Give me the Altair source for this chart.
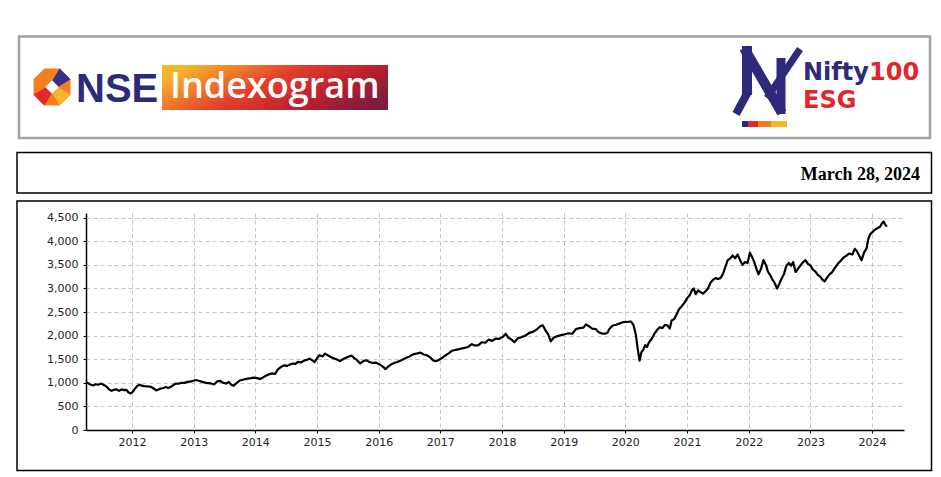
import altair as alt
import pandas as pd

# ---------------- data ----------------
years = [
    2011.25, 2011.28, 2011.33, 2011.37, 2011.41, 2011.45, 2011.50, 2011.55, 2011.59, 2011.63,
    2011.67, 2011.71, 2011.75, 2011.79, 2011.83, 2011.87, 2011.91, 2011.94, 2011.97, 2012.00,
    2012.04, 2012.08, 2012.12, 2012.16, 2012.20, 2012.25, 2012.31, 2012.35, 2012.39, 2012.43,
    2012.47, 2012.51, 2012.55, 2012.59, 2012.63, 2012.67, 2012.71, 2012.75, 2012.80, 2012.85,
    2012.90, 2012.96, 2013.04, 2013.09, 2013.14, 2013.20, 2013.27, 2013.33, 2013.38, 2013.43,
    2013.48, 2013.53, 2013.57, 2013.61, 2013.65, 2013.69, 2013.75, 2013.81, 2013.87, 2013.93,
    2013.97, 2014.03, 2014.07, 2014.12, 2014.17, 2014.22, 2014.27, 2014.32, 2014.37, 2014.42,
    2014.47, 2014.52, 2014.56, 2014.61, 2014.65, 2014.69, 2014.74, 2014.79, 2014.84, 2014.88,
    2014.93, 2014.96, 2015.00, 2015.04, 2015.09, 2015.13, 2015.18, 2015.22, 2015.28, 2015.33,
    2015.37, 2015.42, 2015.47, 2015.52, 2015.56, 2015.61, 2015.65, 2015.70, 2015.75, 2015.80,
    2015.85, 2015.90, 2015.95, 2016.00, 2016.04, 2016.08, 2016.11, 2016.15, 2016.20, 2016.25,
    2016.30, 2016.35, 2016.40, 2016.45, 2016.50, 2016.57, 2016.63, 2016.68, 2016.73, 2016.78,
    2016.84, 2016.88, 2016.92, 2016.97, 2017.02, 2017.08, 2017.14, 2017.19, 2017.25, 2017.32,
    2017.39, 2017.45, 2017.51, 2017.56, 2017.62, 2017.67, 2017.73, 2017.78, 2017.84, 2017.90,
    2017.95, 2018.02, 2018.06, 2018.10, 2018.15, 2018.20, 2018.26, 2018.31, 2018.38, 2018.44,
    2018.50, 2018.57, 2018.62, 2018.66, 2018.71, 2018.75, 2018.79, 2018.84, 2018.90, 2018.96,
    2019.02, 2019.08, 2019.14, 2019.20, 2019.26, 2019.32, 2019.36, 2019.41, 2019.46, 2019.52,
    2019.56, 2019.61, 2019.67, 2019.71, 2019.74, 2019.79, 2019.85, 2019.91, 2019.96, 2020.02,
    2020.09, 2020.13, 2020.17, 2020.20, 2020.23, 2020.26, 2020.29, 2020.32, 2020.35, 2020.38,
    2020.43, 2020.48, 2020.52, 2020.56, 2020.60, 2020.64, 2020.68, 2020.72, 2020.75, 2020.79,
    2020.83, 2020.87, 2020.91, 2020.96, 2021.00, 2021.04, 2021.08, 2021.11, 2021.14, 2021.18,
    2021.22, 2021.26, 2021.30, 2021.34, 2021.38, 2021.42, 2021.46, 2021.50, 2021.54, 2021.58,
    2021.62, 2021.66, 2021.70, 2021.74, 2021.78, 2021.82, 2021.86, 2021.90, 2021.94, 2021.98,
    2022.02, 2022.05, 2022.09, 2022.13, 2022.16, 2022.20, 2022.24, 2022.28, 2022.31, 2022.35,
    2022.38, 2022.42, 2022.46, 2022.49, 2022.53, 2022.57, 2022.61, 2022.65, 2022.69, 2022.72,
    2022.76, 2022.80, 2022.84, 2022.88, 2022.92, 2022.96, 2023.00, 2023.04, 2023.08, 2023.12,
    2023.16, 2023.20, 2023.23, 2023.27, 2023.31, 2023.35, 2023.40, 2023.45, 2023.50, 2023.55,
    2023.59, 2023.63, 2023.68, 2023.72, 2023.75, 2023.79, 2023.83, 2023.87, 2023.91, 2023.94,
    2023.97, 2024.01, 2024.05, 2024.09, 2024.13, 2024.16, 2024.19, 2024.21, 2024.24,
]
values = [
    1010, 1000, 960, 945, 970, 960, 985, 950, 915, 860,
    830, 855, 860, 830, 860, 845, 850, 800, 775, 790,
    860, 930, 960, 940, 930, 925, 915, 880, 840, 860,
    880, 890, 910, 890, 915, 950, 985, 980, 1000, 1000,
    1020, 1030, 1060, 1040, 1020, 1000, 990, 965, 1030, 1040,
    1000, 985, 1020, 960, 940, 990, 1050, 1070, 1090, 1100,
    1110, 1100, 1080, 1110, 1150, 1180, 1200, 1190, 1290, 1340,
    1370, 1360, 1390, 1410, 1400, 1445, 1430, 1470, 1490, 1515,
    1470, 1440, 1520, 1585, 1560, 1620, 1580, 1550, 1515, 1490,
    1460, 1500, 1530, 1560, 1575, 1520, 1480, 1410, 1460, 1480,
    1440, 1420, 1430, 1400, 1370, 1330, 1290, 1340, 1390, 1420,
    1440, 1470, 1500, 1530, 1560, 1610, 1625, 1640, 1600, 1585,
    1535, 1480, 1460, 1480, 1520, 1580, 1630, 1680, 1700, 1720,
    1740, 1760, 1820, 1790, 1800, 1860, 1850, 1915, 1890, 1940,
    1930, 1980, 2040, 1960, 1920, 1860, 1950, 1965, 2000, 2060,
    2080, 2140, 2200, 2220, 2100, 2020, 1880, 1960, 1990, 2010,
    2030, 2050, 2040, 2140, 2160, 2170, 2240, 2200, 2150, 2140,
    2080, 2050, 2040, 2060, 2140, 2210, 2230, 2260, 2285, 2290,
    2300, 2230, 2020, 1720, 1470, 1650, 1700, 1800, 1760, 1850,
    1940, 2060, 2130, 2180, 2160, 2230, 2220, 2150, 2320, 2350,
    2450, 2560, 2620, 2700, 2790, 2850, 2960, 3000, 2880, 2960,
    2920, 2890, 2940, 3000, 3120, 3180, 3220, 3200, 3220, 3300,
    3450, 3600, 3640, 3700, 3640, 3720, 3600, 3500, 3560, 3540,
    3760, 3680, 3560, 3400, 3300, 3420, 3600, 3500, 3360, 3280,
    3200, 3120, 3000, 3080, 3200, 3300, 3480, 3540, 3480, 3560,
    3350, 3420, 3490, 3560, 3600, 3520, 3490, 3400, 3360, 3290,
    3250, 3180, 3150, 3230, 3300, 3340, 3440, 3530, 3600, 3670,
    3700, 3740, 3720, 3840, 3800, 3700, 3600, 3760, 3850, 4050,
    4150, 4200, 4250, 4280, 4310, 4380, 4420, 4360, 4310,
]
x_ticks = list(range(2012, 2025))
y_ticks = list(range(0, 5000, 500))
date_label = "March 28, 2024"
logo_left = ["NSE", "Indexogram"]
logo_right = ["Nifty", "100", "ESG"]

df = pd.DataFrame({"year": years, "value": values})
one = pd.DataFrame({"k": [0]})

# plot origin in page pixels
OX, OY = 86, 213


def px(x):
    return x - OX


def py(y):
    return y - OY


def box(x1, y1, x2, y2, stroke, sw, fill="transparent"):
    return alt.Chart(one).mark_rect(fill=fill, stroke=stroke, strokeWidth=sw).encode(
        x=alt.value(px(x1)), x2=alt.value(px(x2)),
        y=alt.value(py(y1)), y2=alt.value(py(y2)))


def label(text, x, y, size, color, font, weight="normal", align="left"):
    return alt.Chart(one).mark_text(
        text=text, font=font, fontSize=size, fontWeight=weight, color=color,
        align=align, baseline="alphabetic").encode(x=alt.value(px(x)), y=alt.value(py(y)))


def seg(x1, y1, x2, y2, color, w):
    return alt.Chart(one).mark_rule(color=color, strokeWidth=w, strokeCap="butt").encode(
        x=alt.value(px(x1)), y=alt.value(py(y1)), x2=alt.value(px(x2)), y2=alt.value(py(y2)))


def shape(path, cx, cy, size, color):
    return alt.Chart(one).mark_point(shape=path, filled=True, fill=color, opacity=1,
                                     strokeWidth=0, size=size).encode(
        x=alt.value(px(cx)), y=alt.value(py(cy)))


INDIGO = "#2d2a7c"
RED = "#e1262d"

layers = [
    box(19, 36.5, 930, 138, "#a3a3a3", 2.5, fill="white"),
    box(17, 152.5, 931.5, 193, "black", 1.5),
    box(17, 201, 931.5, 470.5, "black", 1.5),
    label(date_label, 920, 180, 18, "black", "Liberation Serif", "bold", "right"),
    # NSE octagon logo
    shape("M0.383,-0.924L0.924,-0.383L0.924,0.383L0.383,0.924L-0.383,0.924L-0.924,0.383L-0.924,-0.383L-0.383,-0.924Z",
          52, 87, 1600, "#f37f21"),
    shape("M0,-0.3L0.383,-0.924L0.924,-0.383L0.3,0Z", 52, 87, 1600, "#35318a"),
    shape("M-0.3,0L-0.924,0.383L-0.383,0.924L0,0.3Z", 52, 87, 1600, "#e3272d"),
    shape("M0.3,0L0.924,0.383L0.383,0.924L0,0.3Z", 52, 87, 1600, "#f9b331"),
    shape("M0,-0.34L0.34,0L0,0.34L-0.34,0Z", 52, 87, 1600, "white"),
    label(logo_left[0], 76, 102, 40, INDIGO, "Liberation Sans", "bold"),
    alt.Chart(one).mark_rect(fill={
        "gradient": "linear", "x1": 0, "y1": 0.3, "x2": 1, "y2": 0.7,
        "stops": [
            {"offset": 0, "color": "#f7b52c"},
            {"offset": 0.18, "color": "#f2862a"},
            {"offset": 0.42, "color": "#e3412b"},
            {"offset": 0.72, "color": "#c0202e"},
            {"offset": 1, "color": "#7f1c3e"},
        ]}).encode(x=alt.value(px(162)), x2=alt.value(px(388)),
                   y=alt.value(py(65)), y2=alt.value(py(110))),
    label(logo_left[1], 170, 98, 36, "white", "Open Sans", 600),
    # Nifty100 ESG logo
    seg(747, 46, 747, 95, INDIGO, 10),
    seg(749, 90, 736, 114, INDIGO, 8),
    seg(744, 48, 782, 113, INDIGO, 10),
    seg(781, 58, 781, 114, INDIGO, 9),
    seg(800, 49, 767, 98, INDIGO, 7),
    box(742, 121, 748, 127, INDIGO, 0, fill=INDIGO),
    box(748, 121, 758, 127, RED, 0, fill=RED),
    box(758, 121, 771, 127, "#f07c22", 0, fill="#f07c22"),
    box(771, 121, 787, 127, "#f8b526", 0, fill="#f8b526"),
    label(logo_right[0], 803, 80, 24, INDIGO, "DejaVu Sans", "bold"),
    label(logo_right[1], 869, 80, 24, RED, "DejaVu Sans", "bold"),
    label(logo_right[2], 803, 108, 24, RED, "DejaVu Sans", "bold"),
]

axis_common = dict(
    title=None, labelFont="DejaVu Sans", labelFontSize=11, labelColor="#222222",
    domainColor="black", domainWidth=1.5, tickColor="black", tickSize=3, tickWidth=1,
    grid=True, gridDash=[4, 3], gridColor="#c4c4c4", gridWidth=1, labelFlush=False,
)

line = alt.Chart(df).mark_line(color="black", strokeWidth=2.2, strokeJoin="round").encode(
    x=alt.X("year:Q",
            scale=alt.Scale(domain=[2011.254, 2024.518], nice=False, zero=False),
            axis=alt.Axis(values=x_ticks, format="d", labelPadding=3, **axis_common)),
    y=alt.Y("value:Q",
            scale=alt.Scale(domain=[0, 4600], nice=False),
            axis=alt.Axis(values=y_ticks, format=",.0f", labelPadding=5, **axis_common)),
)

chart = alt.layer(*layers, line).properties(
    width=818, height=217,
    autosize=alt.AutoSizeParams(type="none"),
    padding={"left": 78, "top": 205, "right": 29, "bottom": 48},
    background="white",
).configure_view(stroke=None)

chart.save("out.html", embed_options={"renderer": "svg", "actions": False})
